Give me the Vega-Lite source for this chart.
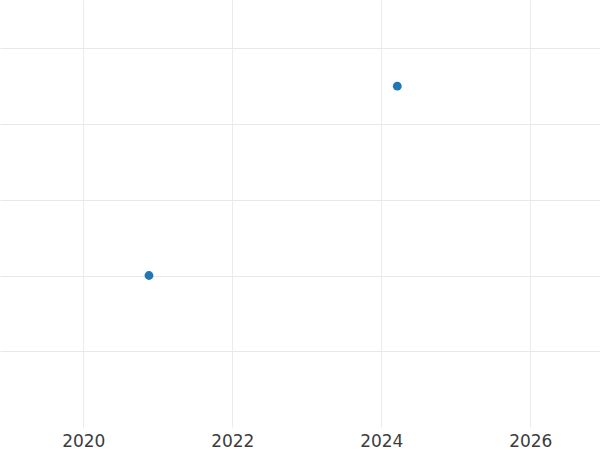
{
  "$schema": "https://vega.github.io/schema/vega-lite/v6.json",
  "width": 600,
  "height": 427,
  "padding": 0,
  "autosize": {"type": "pad"},
  "background": "white",
  "config": {"view": {"stroke": null}},
  "data": {"values": [
    {"year": 2020.882, "value": 2.0},
    {"year": 2024.215, "value": 4.5}
  ]},
  "mark": {"type": "circle", "size": 78, "opacity": 1, "color": "#1f77b4"},
  "encoding": {
    "x": {
      "field": "year", "type": "quantitative",
      "scale": {"domain": [2018.882, 2026.936], "nice": false, "zero": false},
      "axis": {
        "title": null, "values": [2020, 2022, 2024, 2026], "format": "d",
        "domain": false, "ticks": false, "labelPadding": 6,
        "labelFont": "DejaVu Sans", "labelFontSize": 17, "labelColor": "#3c3c3c",
        "gridColor": "#ebebeb", "gridWidth": 1
      }
    },
    "y": {
      "field": "value", "type": "quantitative",
      "scale": {"domain": [0, 5.637], "nice": false, "zero": false},
      "axis": {
        "title": null, "labels": false, "domain": false, "ticks": false,
        "values": [1, 2, 3, 4, 5],
        "gridColor": "#e8e8e8", "gridWidth": 1
      }
    }
  }
}
